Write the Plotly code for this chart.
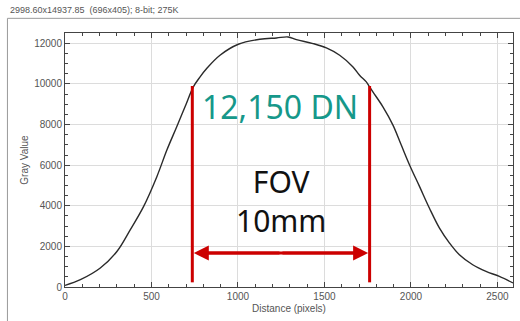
import plotly.graph_objects as go

# Profile data
distance = [0, 89, 204, 300, 377, 454, 531, 589, 646, 694, 742, 781, 819, 896,
            1002, 1127, 1223, 1290, 1338, 1434, 1511, 1588, 1665, 1703, 1742,
            1761, 1780, 1838, 1896, 1944, 1992, 2050, 2107, 2165, 2223, 2280,
            2357, 2434, 2511, 2590]
gray = [80, 359, 934, 1750, 2816, 3960, 5435, 6747, 7892, 8875, 9857, 10350,
        10760, 11415, 11956, 12201, 12265, 12315, 12180, 11990, 11775, 11415,
        10840, 10430, 10100, 9857, 9610, 8875, 7975, 6990, 6010, 4943, 3880,
        2900, 2162, 1587, 1096, 767, 521, 200]

fov_x = [736, 1761]
fov_y = [230, 9900]
arrow_y = 1670
x_ticks = [0, 500, 1000, 1500, 2000, 2500]
y_ticks = [0, 2000, 4000, 6000, 8000, 10000, 12000]
header = "2998.60x14937.85  (696x405); 8-bit; 275K"
peak_label = "12,150 DN"
fov_label = "FOV<br>10mm"

RED = "#cc0000"
fig = go.Figure()
fig.add_trace(go.Scatter(x=distance, y=gray, mode="lines",
                         line=dict(color="#2a2a2a", width=1.4, shape="spline", smoothing=1.0),
                         hoverinfo="skip", showlegend=False))

for fx in fov_x:
    fig.add_shape(type="line", x0=fx, x1=fx, y0=fov_y[0], y1=fov_y[1],
                  xref="x", yref="y", line=dict(color=RED, width=3))

# arrow shaft
fig.add_shape(type="line", x0=fov_x[0] + 40, x1=fov_x[1] - 40, y0=arrow_y, y1=arrow_y,
              xref="x", yref="y", line=dict(color=RED, width=3))
mid = (fov_x[0] + fov_x[1]) / 2
for fx in fov_x:
    fig.add_annotation(x=fx, y=arrow_y, ax=mid, ay=arrow_y, xref="x", yref="y",
                       axref="x", ayref="y", showarrow=True, arrowhead=2,
                       arrowsize=1.0, arrowwidth=3, arrowcolor=RED, text="",
                       standoff=1.5)

fig.add_annotation(x=1242, y=8875, text=peak_label, showarrow=False,
                   font=dict(family="Noto Sans", size=32, color="#16988a"))
fig.add_annotation(x=mid, y=4250, text=fov_label, showarrow=False,
                   font=dict(family="Noto Sans", size=30, color="#111111"))

# window-like frame and header
fig.add_annotation(xref="paper", yref="paper", text=header, showarrow=False,
                   x=(8 - 64.6) / 448.4, y=(287.3 - 10) / 254.6,
                   xanchor="left", yanchor="middle",
                   font=dict(family="Liberation Sans", size=9, color="#555555"))
fig.add_shape(type="line", xref="paper", yref="paper",
              x0=(7 - 64.6) / 448.4, x1=(520 - 64.6) / 448.4,
              y0=(287.3 - 18) / 254.6, y1=(287.3 - 18) / 254.6,
              line=dict(color="#9a9a9a", width=1))
fig.add_shape(type="line", xref="paper", yref="paper",
              x0=(7 - 64.6) / 448.4, x1=(7 - 64.6) / 448.4,
              y0=(287.3 - 18) / 254.6, y1=(287.3 - 325) / 254.6,
              line=dict(color="#9a9a9a", width=1))

axis_common = dict(showline=True, linecolor="#444444", linewidth=1, mirror="allticks",
                   ticks="inside", ticklen=5, tickcolor="#444444",
                   showgrid=True, gridcolor="#dcdcdc", gridwidth=1, zeroline=False,
                   tickfont=dict(family="Liberation Sans", size=10, color="#555555"))
fig.update_xaxes(range=[0, 2590], tickvals=x_ticks, ticktext=[str(v) for v in x_ticks],
                 minor=dict(dtick=100, ticks="inside", ticklen=3, tickcolor="#444444", showgrid=False),
                 title=dict(text="Distance (pixels)", standoff=3,
                            font=dict(family="Liberation Sans", size=10, color="#555555")),
                 **axis_common)
fig.update_yaxes(range=[0, 12510], tickvals=y_ticks, ticktext=[str(v) for v in y_ticks],
                 minor=dict(dtick=500, ticks="inside", ticklen=3, tickcolor="#444444", showgrid=False),
                 title=dict(text="Gray Value", standoff=3,
                            font=dict(family="Liberation Sans", size=10, color="#555555")),
                 **axis_common)
fig.update_layout(width=520, height=321, margin=dict(l=64.6, r=7, t=32.7, b=33.7),
                  plot_bgcolor="white", paper_bgcolor="white", showlegend=False)
fig.write_html("out.html")
